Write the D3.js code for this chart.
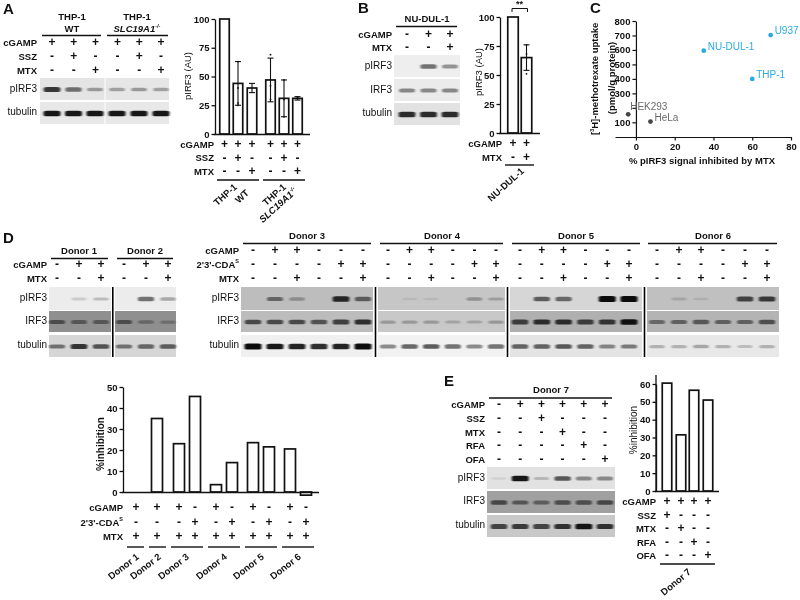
<!DOCTYPE html>
<html><head><meta charset="utf-8">
<script src="https://d3js.org/d3.v7.min.js"></script>
<style>html,body{margin:0;background:#fff}svg{display:block;filter:blur(.35px)}text{font-family:"Liberation Sans",Arial,sans-serif;fill:#111}</style>
</head><body><svg id="c" width="800" height="600"></svg>
<script>
// ---------- data ----------
const barsA=[100,44,40,47,31,31], errA=[0,19,4,19,16,1.5];
const dotsA=[[],[63,40,27,25],[],[69,42,30],[47,30,15],[32]];
const barsB=[100,65], errB=[0,11], dotsB=[[],[76,68,51]];
const barsD=[0,35,23,45.5,3.5,14,23.5,21.5,20.5,-1.5];
const barsE=[60.5,31.5,56.5,51];
const cellLines=["U937","NU-DUL-1","THP-1","HEK293","HeLa"];
const cellX=[69.5,35,60,-4,7.5], cellY=[703,595,400,155,105];
const ticksAB=[0,25,50,75,100], ticksD=[0,10,20,30,40,50], ticksE=[0,10,20,30,40,50,60];
const ticksCx=[0,20,40,60,80], ticksCy=[100,200,300,400,500,600,700,800];

const aCGAMP=["+","+","+"],aSSZ=["-","+","-"],aMTX=["-","-","+"];
const bCGAMP=["-","+","+"],bMTX=["-","-","+"];
const bcCGAMP=["+","+"],bcMTX=["-","+"];
const d12CGAMP=["-","+","+"],d12MTX=["-","-","+"];
const dCGAMP=["-","+","+","-","-","-"],dCDA=["-","-","-","-","+","+"],dMTX=["-","-","+","-","-","+"];
const dcCGAMP=["+","+","+","-","+","-","+","-","+","-"],dcCDA=["-","-","-","+","-","+","-","+","-","+"],dcMTX=["+","+","+","+","+","+","+","+","+","+"];
const eCGAMP=["-","+","+","+","+","+"],eSSZ=["-","-","+","-","-","-"],eMTX=["-","-","-","+","-","-"],eRFA=["-","-","-","-","+","-"],eOFA=["-","-","-","-","-","+"];
const ecCGAMP=["+","+","+","+"],ecSSZ=["+","-","-","-"],ecMTX=["-","+","-","-"],ecRFA=["-","-","+","-"],ecOFA=["-","-","-","+"];

const a1p=[.8,.55,.35],a2p=[.32,.35,.32],a1t=[.95,.95,.95],a2t=[.95,.95,.95];
const bp=[0,.55,.4],bi=[.45,.45,.45],bt=[.85,.85,.85];
const d1p=[0,.15,.22],d1i=[.5,.42,.42],d1t=[.5,.8,.65];
const d2p=[0,.55,.3],d2i=[.5,.3,.25],d2t=[.5,.55,.6];
const d3p=[0,.5,.28,0,.85,.55],d3i=[.65,.65,.65,.6,.7,.8],d3t=[1,.95,.9,.85,.9,1];
const d4p=[0,.08,.08,0,.28,.22],d4i=[.25,.25,.25,.2,.2,.25],d4t=[.45,.6,.65,.55,.45,.55];
const d5p=[0,.6,.55,0,1,1],d5i=[.7,.8,.8,.7,.75,.95],d5t=[.6,.6,.65,.6,.45,.5];
const d6p=[0,.15,.1,0,.7,.75],d6i=[.45,.5,.55,.5,.5,.6],d6t=[.25,.25,.3,.25,.2,.25];
const ep=[.08,.95,.2,.65,.42,.42],ei=[.6,.5,.45,.55,.55,.6],et=[.7,.75,.7,.8,.95,.8];

// ---------- helpers ----------
const svg=d3.select("#c");
const defs=svg.append("defs");
defs.append("filter").attr("id","bl").attr("x","-10%").attr("y","-100%").attr("width","120%").attr("height","300%")
  .append("feGaussianBlur").attr("stdDeviation","1.1 0.7");
const FS=9.5;
function txt(x,y,s,o={}){
  const t=svg.append("text").attr("x",x).attr("y",y).attr("font-size",o.size||FS)
    .attr("font-weight",o.bold===false?400:700).attr("text-anchor",o.anchor||"start")
    .attr("dominant-baseline","middle").text(s);
  if(o.fill)t.style("fill",o.fill);
  if(o.rot!==undefined)t.attr("transform",`rotate(${o.rot} ${x} ${y})`);
  return t;
}
function hline(x0,x1,y,w=1.4){svg.append("line").attr("x1",x0).attr("x2",x1).attr("y1",y).attr("y2",y).attr("stroke","#111").attr("stroke-width",w)}
function lanes(n,a,b){return d3.scalePoint().domain(d3.range(n)).range([a,b])}
function signs(sc,y,vals){
  svg.append("g").selectAll("text").data(vals).join("text").attr("x",(d,i)=>sc(i)).attr("y",y)
    .attr("text-anchor","middle").attr("dominant-baseline","middle").attr("font-weight",700).attr("font-size",12).text(d=>d);
}
function rows(sc,labelX,ys,list){
  list.forEach((r,i)=>{
    const t=txt(labelX,ys[i],r[0],{anchor:"end"});
    if(r[0]==="2'3'-CDA"){t.append("tspan").attr("dy",-3).attr("font-size",5.5).text("S");}
    signs(sc,ys[i],r[1]);
  });
}
function blot(x0,x1,y0,y1,bg,sc,vals,bw=15){
  svg.append("rect").attr("x",x0).attr("y",y0).attr("width",x1-x0).attr("height",y1-y0).attr("fill",bg);
  const cy=(y0+y1)/2+0.5;
  svg.append("g").attr("filter","url(#bl)").selectAll("rect").data(vals).join("rect")
    .attr("x",(d,i)=>sc(i)-(bw+d*2)/2).attr("width",d=>bw+d*2)
    .attr("y",d=>cy-(1.2+d*1.7)).attr("height",d=>2.4+d*3.4).attr("rx",3).attr("ry",1.5)
    .attr("fill","#000").attr("opacity",d=>d===0?0:Math.min(1,d*.95));
}
function yAxisAt(x,scale,ticks,opts={}){
  const g=svg.append("g").attr("transform",`translate(${x},0)`)
    .call(d3.axisLeft(scale).tickValues(ticks).tickSize(3.5).tickSizeOuter(0).tickFormat(opts.fmt||d3.format("d")));
  g.selectAll("path,line").attr("stroke","#111").attr("stroke-width",1.3);
  g.selectAll("text").attr("font-size",FS).attr("font-weight",700).attr("dx",1);
  return g;
}
function bars(data,xs,w,y,y0){
  svg.append("g").selectAll("rect").data(data).join("rect")
    .attr("x",(d,i)=>xs[i]-w/2).attr("width",w)
    .attr("y",d=>Math.min(y(d),y0)).attr("height",d=>Math.abs(y(d)-y0))
    .attr("fill","#fff").attr("stroke","#111").attr("stroke-width",1.7);
}
function errs(data,er,xs,y,dots){
  const g=svg.append("g").attr("stroke","#111").attr("stroke-width",1.1);
  data.forEach((d,i)=>{ if(!er[i])return;
    g.append("line").attr("x1",xs[i]).attr("x2",xs[i]).attr("y1",y(d-er[i])).attr("y2",y(d+er[i]));
    [d-er[i],d+er[i]].forEach(v=>g.append("line").attr("x1",xs[i]-3).attr("x2",xs[i]+3).attr("y1",y(v)).attr("y2",y(v)));
  });
  dots.forEach((a,i)=>a.forEach(v=>svg.append("circle").attr("cx",xs[i]).attr("cy",y(v)).attr("r",0.9).attr("fill","#111")));
}
function rowLabels(x,list){list.forEach(([s,y])=>txt(x,y,s,{bold:false,anchor:"end",size:10}))}
function panel(x,y,s){txt(x,y,s,{size:15})}
const ord=(xs)=>d3.scaleOrdinal().domain(d3.range(xs.length)).range(xs);

// ---------- Panel A ----------
panel(3,10,"A");
txt(72,17,"THP-1",{anchor:"middle"});txt(72,29,"WT",{anchor:"middle"});
txt(137,17,"THP-1",{anchor:"middle"});
const sl=txt(137,29,"SLC19A1",{anchor:"middle"}).attr("font-style","italic");
sl.append("tspan").attr("dy",-2.5).attr("font-size",5.5).text("-/-");
hline(42,101,35.5);hline(107,168,35.5);
const la=lanes(6,52,161), la2=lanes(3,117,161);
rows(la,37,[43,57,71],[["cGAMP",aCGAMP.concat(aCGAMP)],["SSZ",aSSZ.concat(aSSZ)],["MTX",aMTX.concat(aMTX)]]);
const la1=lanes(3,52,95);
blot(40,104.5,78,100,"#e4e4e4",la1,a1p);blot(105.5,169,78,100,"#e6e6e6",la2,a2p);
blot(40,104.5,102,124,"#e8e8e8",la1,a1t);blot(105.5,169,102,124,"#e8e8e8",la2,a2t);
rowLabels(37,[["pIRF3",89],["tubulin",112]]);
const yA=d3.scaleLinear().domain([0,100]).range([134,19]);
const xA=[224.5,238,252,270.5,284,297.5];
yAxisAt(215,yA,ticksAB);
bars(barsA,xA,9.5,yA,134);
errs(barsA,errA,xA,yA,dotsA);
hline(214,310,134.5,1.5);
txt(188,76,"pIRF3 (AU)",{anchor:"middle",rot:-90,size:9.5,bold:false});
rows(ord(xA),214,[145,158.5,172],[["cGAMP",aCGAMP.concat(aCGAMP)],["SSZ",aSSZ.concat(aSSZ)],["MTX",aMTX.concat(aMTX)]]);
hline(217,259,180);hline(263,305,180);
txt(236,186,"THP-1",{anchor:"end",rot:-42});txt(248,192,"WT",{anchor:"end",rot:-42});
txt(285,186,"THP-1",{anchor:"end",rot:-42});
const sl2=txt(296,190,"SLC19A1",{anchor:"end",rot:-42}).attr("font-style","italic");
sl2.append("tspan").attr("dy",-2.5).attr("font-size",5.5).text("-/-");

// ---------- Panel B ----------
panel(358,9,"B");
txt(427,19,"NU-DUL-1",{anchor:"middle"});hline(396,457,26.5);
const lb=lanes(3,407,450);
rows(lb,392,[35,48],[["cGAMP",bCGAMP],["MTX",bMTX]]);
blot(394,460,55,77,"#eeeeee",lb,bp);blot(394,460,79,101,"#ebebeb",lb,bi);blot(394,460,103,125,"#e2e2e2",lb,bt);
rowLabels(392,[["pIRF3",66],["IRF3",90],["tubulin",113]]);
const yB=d3.scaleLinear().domain([0,100]).range([133,17]);
const xB=[513,526.5];
yAxisAt(500,yB,ticksAB);
bars(barsB,xB,10.5,yB,133);
errs(barsB,errB,xB,yB,dotsB);
hline(499,540,133.5,1.5);
svg.append("path").attr("d",`M${xB[0]-1},12V8.5H${xB[1]+1}V12`).attr("fill","none").attr("stroke","#111").attr("stroke-width",1);
txt(519.5,5,"**",{anchor:"middle",size:9});
txt(479,72,"pIRF3 (AU)",{anchor:"middle",rot:-90,size:9.5,bold:false});
rows(ord(xB),502,[144,158],[["cGAMP",bcCGAMP],["MTX",bcMTX]]);
hline(505,534,165);
txt(523,170,"NU-DUL-1",{anchor:"end",rot:-42});

// ---------- Panel C ----------
panel(590,9,"C");
const xC=d3.scaleLinear().domain([-10.8,80]).range([615,791]);
const yC=d3.scaleLinear().domain([0,800]).range([136.8,21]);
const gx=svg.append("g").attr("transform","translate(0,137)").call(d3.axisBottom(xC).tickValues(ticksCx).tickSize(3.5).tickSizeOuter(0));
gx.selectAll("path,line").attr("stroke","#111").attr("stroke-width",1.2);
gx.selectAll("text").attr("font-size",FS).attr("font-weight",700);
const gy=yAxisAt(xC(0),yC,ticksCy,{fmt:d=>d===200?"":d});
gy.selectAll("path,line").attr("stroke-width",1.2);
const cBlue="#29abe2",cGray="#454545",tGray="#6a6a6a";
const isBlue=i=>i<3;
svg.append("g").selectAll("circle").data(cellLines).join("circle")
  .attr("cx",(d,i)=>xC(cellX[i])).attr("cy",(d,i)=>yC(cellY[i])).attr("r",2.4).attr("fill",(d,i)=>isBlue(i)?cBlue:cGray);
const cOff=[[4,-4],[4,-3],[4,-4],[2,-7],[4,-3]];
cellLines.forEach((s,i)=>txt(xC(cellX[i])+cOff[i][0],yC(cellY[i])+cOff[i][1],s,{bold:false,size:10,fill:isBlue(i)?cBlue:tGray}));
txt(702,161,"% pIRF3 signal inhibited by MTX",{anchor:"middle"});
const yl=txt(595,135,"[",{anchor:"start",rot:-90});
yl.append("tspan").attr("dy",-2.5).attr("font-size",5.5).text("3");
yl.append("tspan").attr("dy",2.5).text("H]-methotrexate uptake");
txt(612,78,"(pmol/g protein)",{anchor:"middle",rot:-90});

// ---------- Panel D blots ----------
panel(3,239,"D");
const rp=[287,310],ri=[311,332],rt=[335,357];
const d1=lanes(3,57,101),d2=lanes(3,124,168);
txt(79,251,"Donor 1",{anchor:"middle"});txt(145,251,"Donor 2",{anchor:"middle"});
hline(51,108,258.5);hline(117,173,258.5);
rows(d1,47,[265,279],[["cGAMP",d12CGAMP],["MTX",d12MTX]]);
signs(d2,265,d12CGAMP);signs(d2,279,d12MTX);
const panelsD=[
 [49,111,d1,d1p,d1i,d1t,"#ececec","#8f8f8f","#d6d6d6"],
 [115,176,d2,d2p,d2i,d2t,"#ececec","#8f8f8f","#d6d6d6"]];
const d3L=lanes(6,253,363),d4L=lanes(6,388,496),d5L=lanes(6,520,629),d6L=lanes(6,657,767);
panelsD.push([241,373,d3L,d3p,d3i,d3t,"#bdbdbd","#bcbcbc","#f0f0f0"]);
panelsD.push([378,505,d4L,d4p,d4i,d4t,"#c6c6c6","#c8c8c8","#f2f2f2"]);
panelsD.push([510,642,d5L,d5p,d5i,d5t,"#d6d6d6","#b0b0b0","#e4e4e4"]);
panelsD.push([647,779,d6L,d6p,d6i,d6t,"#c0c0c0","#b4b4b4","#e8e8e8"]);
panelsD.forEach(p=>{
  blot(p[0],p[1],rp[0],rp[1],p[6],p[2],p[3]);
  blot(p[0],p[1],ri[0],ri[1],p[7],p[2],p[4]);
  blot(p[0],p[1],rt[0],rt[1],p[8],p[2],p[5]);
});
[112.8,375.5,507.5,644.5].forEach(x=>svg.append("line").attr("x1",x).attr("x2",x).attr("y1",287).attr("y2",357).attr("stroke","#000").attr("stroke-width",1.6));
rowLabels(47,[["pIRF3",298],["IRF3",321],["tubulin",345]]);
rowLabels(239,[["pIRF3",298],["IRF3",321],["tubulin",345]]);
[["Donor 3",307,243,371,d3L],["Donor 4",442,380,503,d4L],["Donor 5",576,512,640,d5L],["Donor 6",713,648,777,d6L]].forEach(a=>{
  txt(a[1],236,a[0],{anchor:"middle"});hline(a[2],a[3],243.5);
  signs(a[4],251,dCGAMP);signs(a[4],265,dCDA);signs(a[4],279,dMTX);
});
txt(239,251,"cGAMP",{anchor:"end"});
const cda=txt(239,265,"2'3'-CDA",{anchor:"end"});cda.append("tspan").attr("dy",-3).attr("font-size",5.5).text("S");
txt(239,279,"MTX",{anchor:"end"});

// ---------- Panel D bars ----------
const yD=d3.scaleLinear().domain([0,50]).range([492,387]);
const xD=[136,157,179,195,216,232,253,269,290,306];
yAxisAt(123,yD,ticksD);
bars(barsD,xD,11,yD,492);
hline(122,319,492.5,1.5);
txt(101,444,"%inhibition",{anchor:"middle",rot:-90,size:10});
rows(ord(xD),123,[508,523,537],[["cGAMP",dcCGAMP],["2'3'-CDA",dcCDA],["MTX",dcMTX]]);
[[127,144,138],[149,166,160],[171,203,188],[208,240,226],[245,277,263],[282,314,300]].forEach((a,i)=>{
  hline(a[0],a[1],547);
  txt(a[2],556,"Donor "+(i+1),{anchor:"end",rot:-38});
});

// ---------- Panel E ----------
panel(444,382,"E");
txt(551,390,"Donor 7",{anchor:"middle"});hline(489,612,398);
const le=lanes(6,499,605);
rows(le,485,[405,419,433,446,460],[["cGAMP",eCGAMP],["SSZ",eSSZ],["MTX",eMTX],["RFA",eRFA],["OFA",eOFA]]);
blot(487,615,467,489,"#e2e2e2",le,ep);blot(487,615,491,513,"#a0a0a0",le,ei);blot(487,615,515,537,"#c8c8c8",le,et);
rowLabels(485,[["pIRF3",478],["IRF3",501],["tubulin",525]]);
const yE=d3.scaleLinear().domain([0,60]).range([491,384]);
const xE=[667,681,694,708];
yAxisAt(656,yE,ticksE);
svg.append("line").attr("x1",656).attr("x2",656).attr("y1",375).attr("y2",491).attr("stroke","#111").attr("stroke-width",1.3);
bars(barsE,xE,9.5,yE,491);
hline(655,719,491.5,1.5);
txt(634,430,"%inhibition",{anchor:"middle",rot:-90,size:10,bold:false});
rows(ord(xE),656,[502,516,529,543,556],[["cGAMP",ecCGAMP],["SSZ",ecSSZ],["MTX",ecMTX],["RFA",ecRFA],["OFA",ecOFA]]);
hline(660,715,564);
txt(690,571,"Donor 7",{anchor:"end",rot:-40});
</script></body></html>
